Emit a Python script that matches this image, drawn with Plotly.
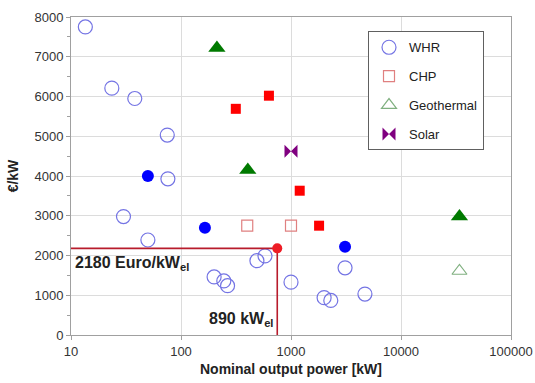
import plotly.graph_objects as go

# WHR (open circles)
whr_open_x = [13.5, 23.5, 38, 75, 76, 30, 50, 200, 245, 265, 490, 580, 1000, 2000, 2300, 3100, 4700]
whr_open_y = [7750, 6210, 5950, 5030, 3930, 2980, 2390, 1460, 1360, 1240, 1870, 1990, 1330, 940, 870, 1690, 1030]
# WHR (filled)
whr_fill_x = [50, 165, 3100]
whr_fill_y = [4000, 2700, 2220]
# CHP
chp_open_x = [400, 1000]
chp_open_y = [2750, 2750]
chp_fill_x = [315, 630, 1200, 1800]
chp_fill_y = [5690, 6020, 3630, 2750]
# Geothermal
geo_fill_x = [212, 405, 34000]
geo_fill_y = [7220, 4150, 2980]
geo_open_x = [34000]
geo_open_y = [1610]
# Solar
sol_x = [1000]
sol_y = [4620]
# Highlighted point (as drawn in the picture)
hl_x = 750
hl_y = 2180

x_ticks = [10, 100, 1000, 10000, 100000]
y_ticks = [0, 1000, 2000, 3000, 4000, 5000, 6000, 7000, 8000]

FONT = "Liberation Sans, Arial"

fig = go.Figure()

fig.add_trace(go.Scatter(x=whr_open_x, y=whr_open_y, mode="markers", name="WHR",
                         legendgroup="a",
                         marker=dict(symbol="circle-open", size=14, color="#7474e4", line=dict(width=1.2))))
fig.add_trace(go.Scatter(x=whr_fill_x, y=whr_fill_y, mode="markers", showlegend=False,
                         marker=dict(symbol="circle", size=12, color="#0000ff")))
fig.add_trace(go.Scatter(x=chp_open_x, y=chp_open_y, mode="markers", name="CHP",
                         legendgroup="b",
                         marker=dict(symbol="square-open", size=11, color="#e08080", line=dict(width=1.2))))
fig.add_trace(go.Scatter(x=chp_fill_x, y=chp_fill_y, mode="markers", showlegend=False,
                         marker=dict(symbol="square", size=10, color="#ff0000")))
fig.add_trace(go.Scatter(x=geo_open_x, y=geo_open_y, mode="markers", name="Geothermal",
                         legendgroup="c",
                         marker=dict(symbol="triangle-up-open", size=13, color="#80b080", line=dict(width=1.2))))
fig.add_trace(go.Scatter(x=geo_fill_x, y=geo_fill_y, mode="markers", showlegend=False,
                         marker=dict(symbol="triangle-up", size=15, color="#007a00")))
fig.add_trace(go.Scatter(x=sol_x, y=sol_y, mode="markers", name="Solar",
                         legendgroup="d",
                         marker=dict(symbol="bowtie", size=13, color="#800080")))

# Reference lines to highlighted point
fig.add_trace(go.Scatter(x=[10, hl_x, hl_x], y=[hl_y, hl_y, 0], mode="lines", showlegend=False,
                         line=dict(color="#b81c2c", width=1.6), hoverinfo="skip"))
fig.add_trace(go.Scatter(x=[hl_x], y=[hl_y], mode="markers", showlegend=False,
                         marker=dict(symbol="circle", size=10, color="#ee1c25")))

fig.add_annotation(x=1, y=1810, xref="x", yref="y", text="<b>2180 Euro/kW<sub>el</sub></b>",
                   showarrow=False, xanchor="left", yanchor="middle",
                   xshift=2, font=dict(family=FONT, size=16, color="#222"))
fig.add_annotation(x=2.875, y=380, xref="x", yref="y", text="<b>890 kW<sub>el</sub></b>",
                   showarrow=False, xanchor="right", yanchor="middle",
                   xshift=-2, font=dict(family=FONT, size=16, color="#222"))

axis_common = dict(showline=True, linecolor="#a0a0a0", linewidth=1, mirror=True,
                   gridcolor="#dcdcdc", gridwidth=1, zeroline=False, automargin=False,
                   tickfont=dict(family=FONT, size=13, color="#333"),
                   ticks="outside", ticklen=4, tickcolor="#a0a0a0")

fig.update_xaxes(type="log", range=[1, 5], tickvals=x_ticks,
                 ticktext=[str(v) for v in x_ticks],
                 title=dict(text="<b>Nominal output power [kW]</b>", standoff=6,
                            font=dict(family=FONT, size=14, color="#222")),
                 **axis_common)
fig.update_yaxes(range=[0, 8000], tickvals=y_ticks,
                 minor=dict(dtick=500, ticks="outside", ticklen=3, tickcolor="#a0a0a0", showgrid=False),
                 title=dict(text="<b>€/kW</b>", standoff=12,
                            font=dict(family=FONT, size=14, color="#222")),
                 **axis_common)

fig.update_layout(
    width=535, height=383,
    margin=dict(l=71, r=24, t=17, b=48),
    plot_bgcolor="white", paper_bgcolor="white",
    legend=dict(x=0.675, y=0.955, xanchor="left", yanchor="top",
                bordercolor="#606060", borderwidth=1, bgcolor="white",
                traceorder="grouped", tracegroupgap=9,
                font=dict(family=FONT, size=13, color="#222")),
)

fig.write_html("out.html", config={"displayModeBar": False},
               post_script="document.body.style.margin='0';document.body.style.overflow='hidden';")
